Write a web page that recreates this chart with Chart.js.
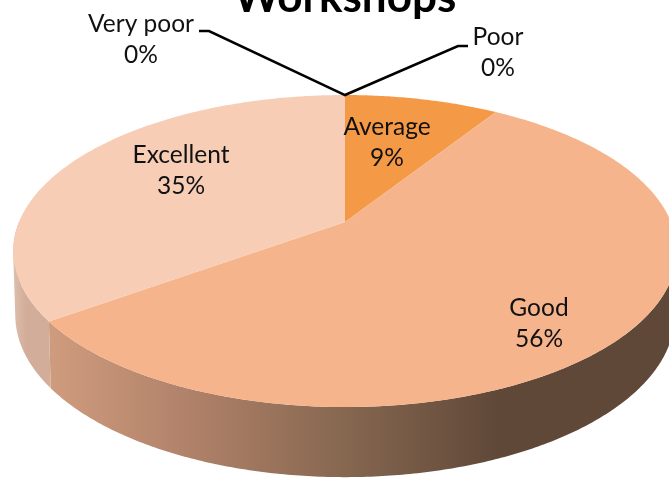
<!DOCTYPE html>
<html>
<head>
<meta charset="utf-8">
<title>Workshops</title>
<script src="https://cdn.jsdelivr.net/npm/chart.js@4"></script>
<style>
  html, body { margin: 0; padding: 0; background: #fff; overflow: hidden; }
  canvas { display: block; }
</style>
</head>
<body>
<canvas id="pie" width="669" height="480"></canvas>
<script>
// data
const categories = ['Very poor', 'Poor', 'Average', 'Good', 'Excellent'];
const percents = [0, 0, 9, 56, 35];
const sliceColors = ['#4e7ab5', '#c0504d', '#f49a47', '#f5b48c', '#f7cdb6'];
const chartTitle = 'Workshops';

// wall colours, left to right in x
const wallStops = {
  3: ['#d09c7e', '#ae8068', '#85664f', '#5f4838'],
  4: ['#dcbcaa', '#d2ad9a', '#d2ad9a', '#d2ad9a']
};

// perspective of the disc: unit circle -> screen
const K = -0.186;
const topFace = { cx: 345, cy: 222, a: 326, b: 150.6 };
const bottomFace = { cx: 345, cy: 285, a: 324, b: 156.4 };

function project(face, angle) {
  const u = Math.cos(angle), v = Math.sin(angle);
  const w = 1 + K * v;
  return { x: face.cx + face.a * u / w, y: face.cy + face.b * v / w };
}

function arcPoints(face, start, end) {
  const pts = [];
  const n = Math.max(2, Math.ceil((end - start) / 0.01));
  for (let i = 0; i <= n; i++) {
    pts.push(project(face, start + (end - start) * i / n));
  }
  return pts;
}

function addShape(ctx, pts) {
  pts.forEach((p, i) => i ? ctx.lineTo(p.x, p.y) : ctx.moveTo(p.x, p.y));
  ctx.closePath();
}

// all strips must turn the same way or they cancel where the wall folds
function signedArea(pts) {
  let sum = 0;
  pts.forEach((p, i) => {
    const q = pts[(i + 1) % pts.length];
    sum += p.x * q.y - q.x * p.y;
  });
  return sum;
}

function wallGradient(ctx, i) {
  const stops = wallStops[i];
  const g = ctx.createLinearGradient(i === 3 ? 47 : 15, 0, i === 3 ? 500 : 47, 0);
  stops.forEach((c, j) => g.addColorStop(j / (stops.length - 1), c));
  return g;
}

// label text placed like the reference, value comes from percents
const labelSpots = [
  { x: 141, y: 24 }, { x: 498, y: 37 }, { x: 387, y: 127 }, { x: 539, y: 308 }, { x: 181, y: 155 }
];
const LINE_GAP = 31;

const disc3d = {
  id: 'disc3d',
  beforeDatasetsDraw(chart) {
    const ctx = chart.ctx;
    const arcs = chart.getDatasetMeta(0).data;

    // outer wall first, strips in one path so no seams show
    arcs.forEach((arc, i) => {
      if (!wallStops[i]) return;
      // the back half is hidden behind the top face
      const from = Math.max(arc.startAngle, 0);
      const end = Math.min(arc.endAngle, Math.PI);
      const upper = arcPoints(topFace, from, end);
      const lower = arcPoints(bottomFace, from, end);
      ctx.beginPath();
      for (let j = 0; j < upper.length - 1; j++) {
        const quad = [upper[j], upper[j + 1], lower[j + 1], lower[j]];
        addShape(ctx, signedArea(quad) < 0 ? quad.reverse() : quad);
      }
      ctx.fillStyle = wallGradient(ctx, i);
      ctx.fill();
    });

    // top face
    arcs.forEach((arc, i) => {
      if (percents[i] === 0) return;
      const pts = [{ x: topFace.cx, y: topFace.cy }].concat(arcPoints(topFace, arc.startAngle, arc.endAngle));
      ctx.beginPath();
      addShape(ctx, pts);
      ctx.fillStyle = sliceColors[i];
      ctx.fill();
    });

    // leader lines for the two 0% slices
    const tip = project(topFace, arcs[0].startAngle);
    ctx.strokeStyle = '#000';
    ctx.lineWidth = 2.5;
    ctx.beginPath();
    ctx.moveTo(199, 31);
    ctx.lineTo(209, 31);
    ctx.lineTo(tip.x, tip.y);
    ctx.lineTo(458, 46);
    ctx.lineTo(468, 46);
    ctx.stroke();

    // labels
    ctx.fillStyle = '#111';
    ctx.textAlign = 'center';
    ctx.textBaseline = 'middle';
    ctx.font = '24.5px Lato';
    categories.forEach((name, i) => {
      ctx.fillText(name, labelSpots[i].x, labelSpots[i].y);
      ctx.fillText(percents[i] + '%', labelSpots[i].x, labelSpots[i].y + LINE_GAP);
    });

    // title runs off the top of the picture
    ctx.fillStyle = '#000';
    ctx.textBaseline = 'alphabetic';
    ctx.font = 'bold 44px Lato';
    ctx.fillText(chartTitle, 345, 12);
    return false;
  }
};

new Chart(document.getElementById('pie'), {
  type: 'pie',
  data: {
    labels: categories,
    datasets: [{ data: percents, backgroundColor: sliceColors, borderWidth: 0 }]
  },
  options: {
    responsive: false,
    animation: false,
    plugins: { legend: { display: false }, tooltip: { enabled: false } }
  },
  plugins: [disc3d]
});
</script>
</body>
</html>
